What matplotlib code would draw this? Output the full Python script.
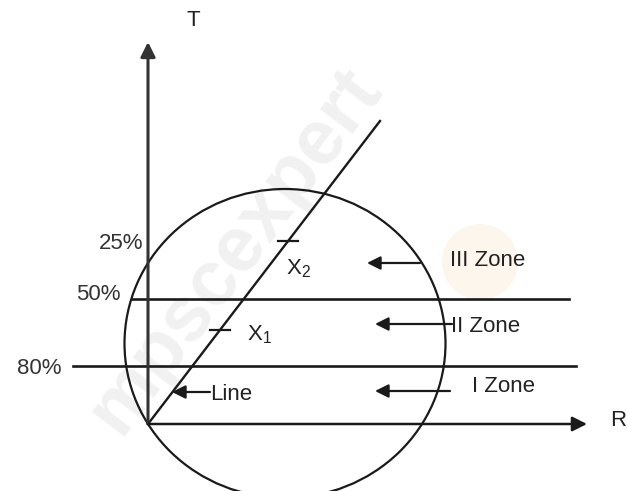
import matplotlib
matplotlib.use("Agg")
import matplotlib.pyplot as plt
from matplotlib.patches import Ellipse, Circle, FancyArrowPatch

plt.rcParams['font.family'] = ['Liberation Sans', 'DejaVu Sans']
plt.rcParams['mathtext.fontset'] = 'custom'
plt.rcParams['mathtext.rm'] = 'Liberation Sans'
plt.rcParams['mathtext.it'] = 'Liberation Sans'

# ---- diagram data (pixel-like diagram coordinates, y grows downward) ----
origin = (148, 424)
t_axis_top = 42
r_axis_end = 587
axis_labels = ["T", "R"]
axis_label_pos = [(193, 20), (610, 420)]

circle_center = (285, 343.5)
circle_size = (321, 309)

pct_labels = ["25%", "50%", "80%"]
pct_label_pos = [(143, 243), (121, 294), (61, 368)]
zone_line_y = [299, 366]
zone_line_x0 = [132, 73]
zone_line_x1 = [569, 576]

diag_end = (380, 121)
marker_labels = ["X$_1$", "X$_2$"]
marker_frac = [0.31, 0.603]
marker_label_pos = [(247, 335), (286, 269)]

zone_labels = ["III Zone", "II Zone", "I Zone", "Line"]
zone_label_pos = [(450, 261), (451, 326), (472, 387), (210, 395)]
arrow_tail_x = [420, 452, 450, 210]
arrow_head_x = [367, 375, 375, 172]
arrow_y = [263, 324, 391, 392]

W, H = 628, 491
fig = plt.figure(figsize=(W / 100, H / 100), dpi=100)
ax = fig.add_axes([0, 0, 1, 1])
ax.set_xlim(0, W)
ax.set_ylim(H, 0)
ax.axis("off")

# faint watermark
ax.text(235, 250, "mpscexpert", rotation=53, fontsize=56, color="#f1f1f1",
        ha="center", va="center", zorder=0, fontweight="bold")
ax.add_patch(Circle((480, 262), 38, color="#fdf6ec", zorder=0, lw=0))

lc = "#1a1a1a"
# axes with arrows
ax.add_patch(FancyArrowPatch(origin, (origin[0], t_axis_top), arrowstyle="-|>",
                             mutation_scale=22, lw=2.2, color="#333333",
                             shrinkA=0, shrinkB=0, zorder=3))
ax.add_patch(FancyArrowPatch(origin, (r_axis_end, origin[1]), arrowstyle="-|>",
                             mutation_scale=22, lw=1.8, color=lc,
                             shrinkA=0, shrinkB=0, zorder=3))
for lab, (x, y) in zip(axis_labels, axis_label_pos):
    ax.text(x, y, lab, fontsize=16, color="#222222",
            ha="center" if lab == "T" else "left", va="center")

# circle
ax.add_patch(Ellipse(circle_center, circle_size[0], circle_size[1], fill=False,
                     lw=1.6, edgecolor=lc, zorder=2))

# zone boundary lines
for y, x0, x1 in zip(zone_line_y, zone_line_x0, zone_line_x1):
    ax.plot([x0, x1], [y, y], color=lc, lw=1.9, zorder=2)

for lab, (x, y) in zip(pct_labels, pct_label_pos):
    ax.text(x, y, lab, fontsize=16, color="#333333", ha="right", va="center")

# diagonal line
ax.plot([origin[0], diag_end[0]], [origin[1], diag_end[1]], color=lc, lw=1.7, zorder=2)
for f, lab, (lx, ly) in zip(marker_frac, marker_labels, marker_label_pos):
    mx = origin[0] + f * (diag_end[0] - origin[0])
    my = origin[1] + f * (diag_end[1] - origin[1])
    ax.plot([mx - 10, mx + 10], [my, my], color=lc, lw=1.6, zorder=2)
    ax.text(lx, ly, lab, fontsize=16, color="#222222", ha="left", va="center")

# zone arrows and labels
for lab, (x, y), tx, hx, ay in zip(zone_labels, zone_label_pos, arrow_tail_x,
                                    arrow_head_x, arrow_y):
    ax.add_patch(FancyArrowPatch((tx, ay), (hx, ay), arrowstyle="-|>",
                                 mutation_scale=20, lw=1.6, color=lc,
                                 shrinkA=0, shrinkB=0, zorder=3))
    ax.text(x, y, lab, fontsize=16, color="#222222", ha="left", va="center")

fig.savefig("out.png", dpi=100)
